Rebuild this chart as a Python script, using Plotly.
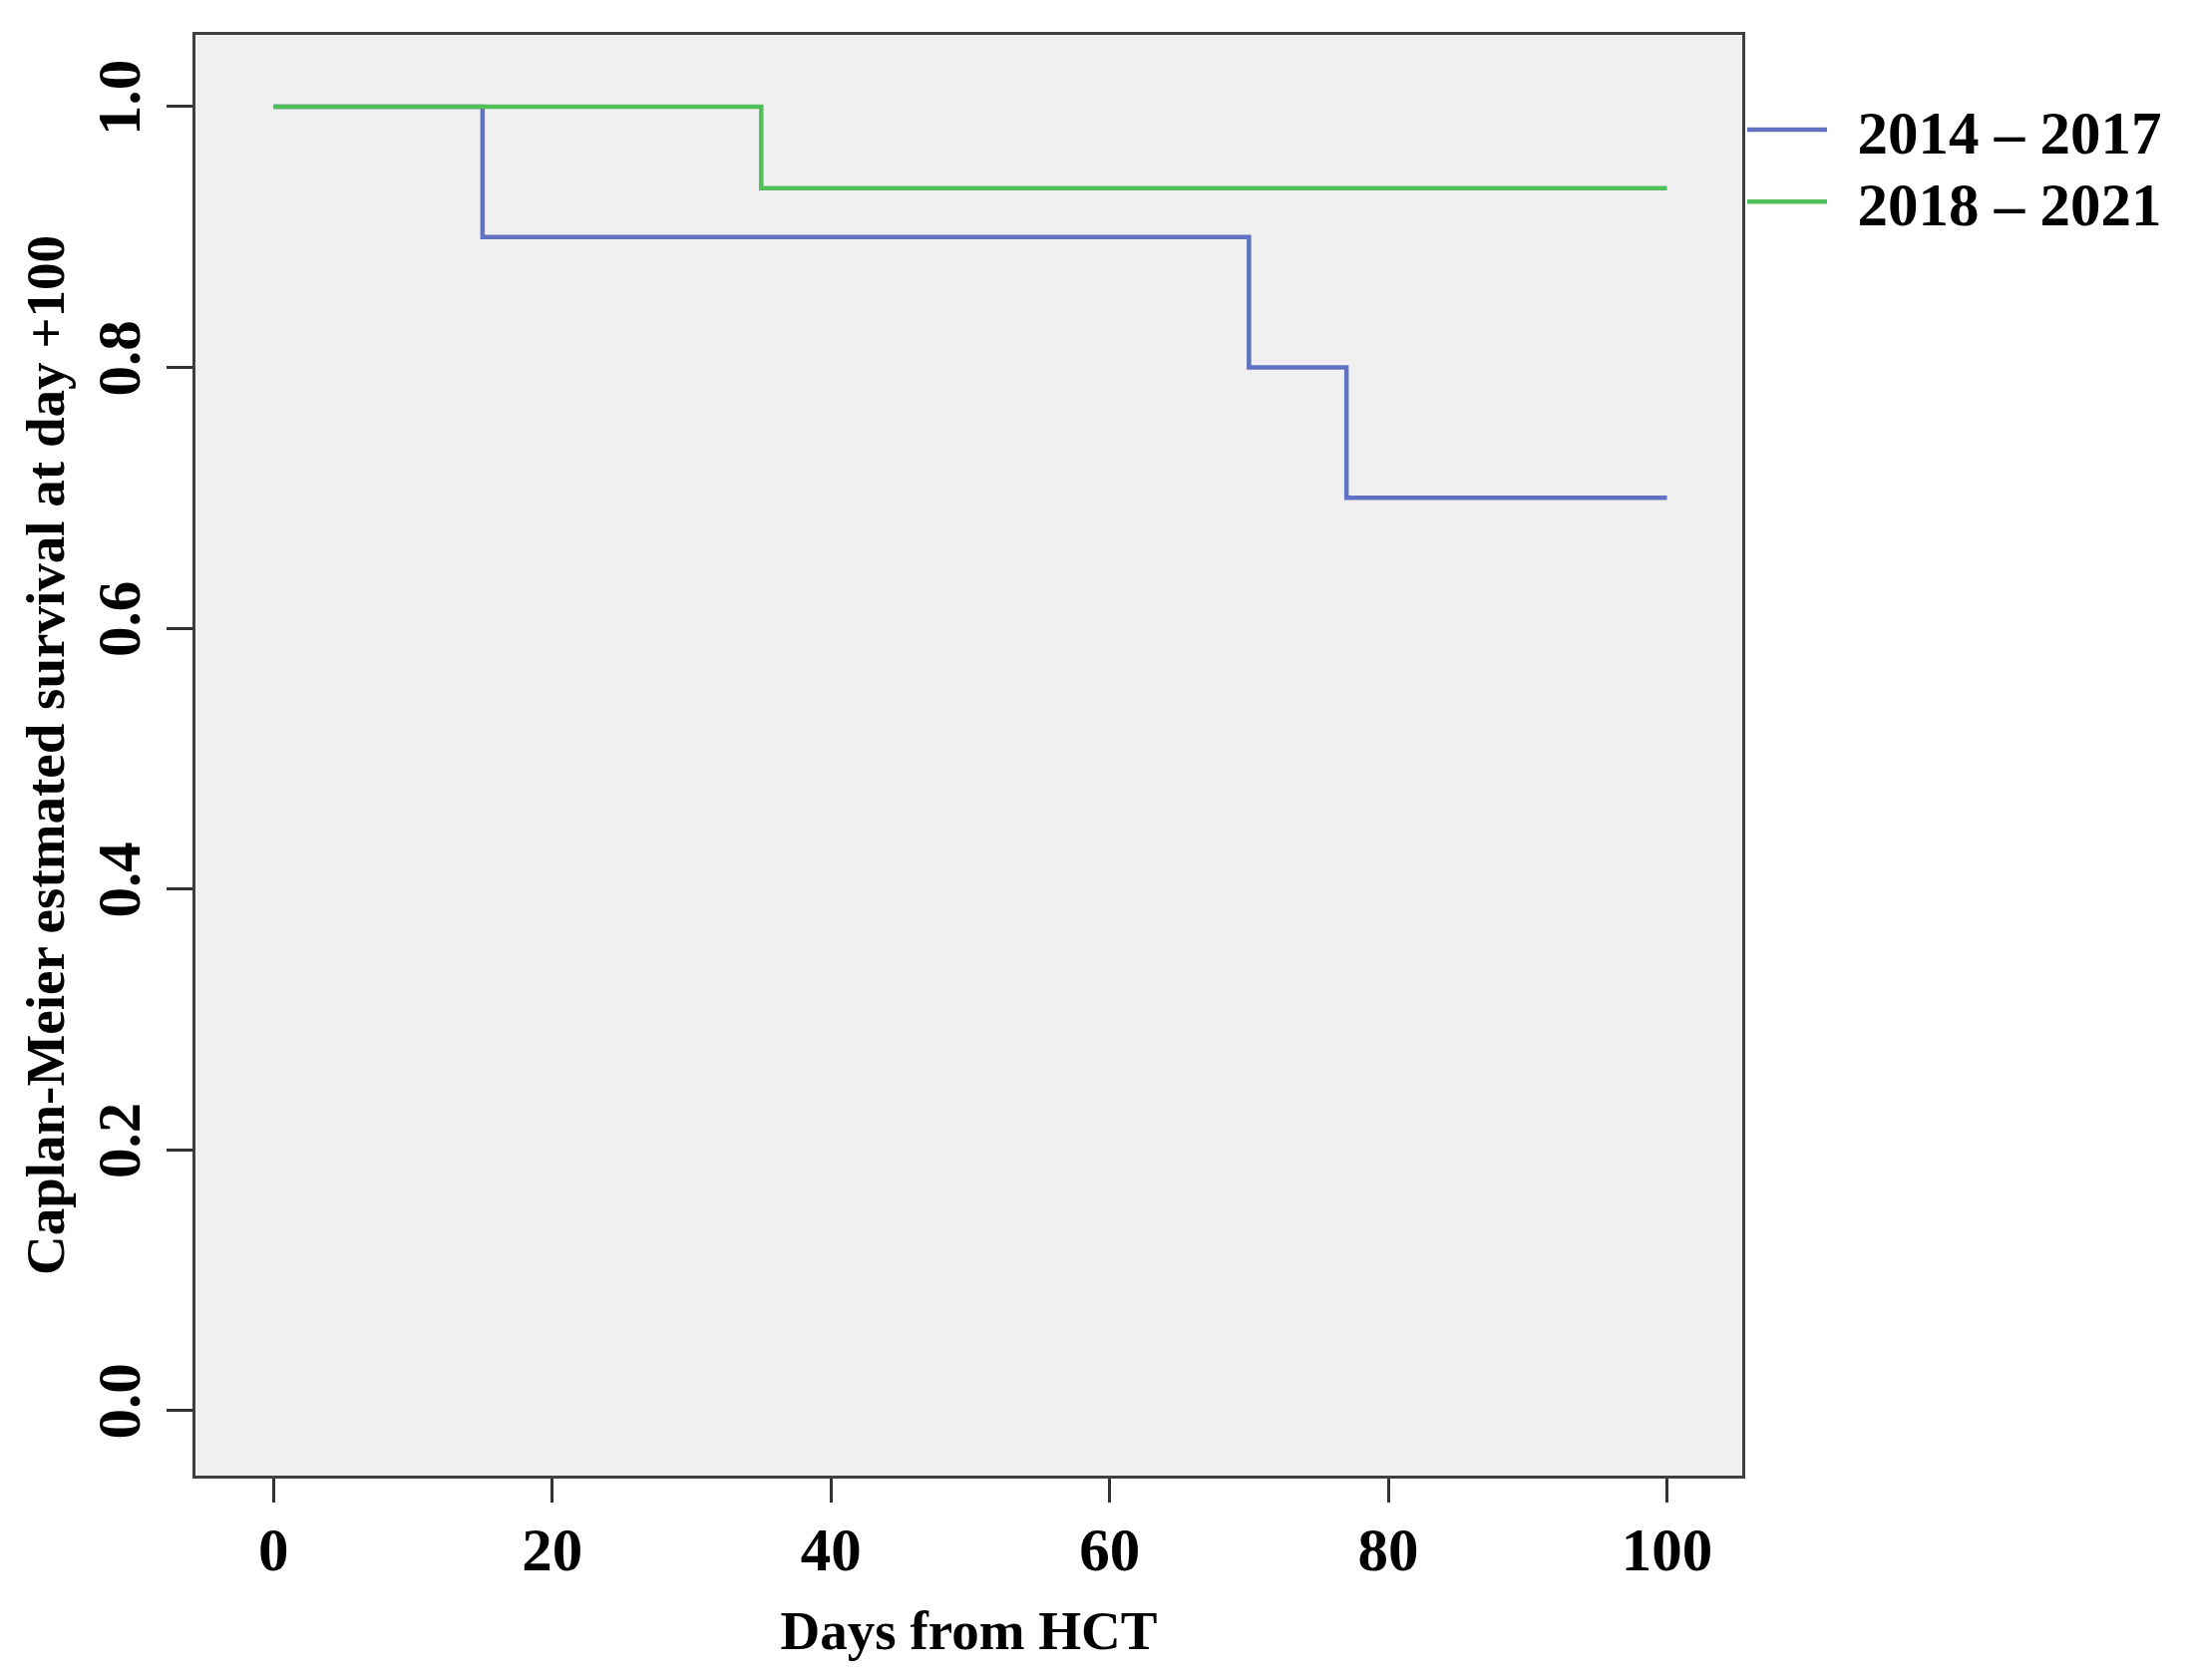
import plotly.graph_objects as go

# Kaplan-Meier step data
days_2014 = [0, 15, 70, 77, 100]
surv_2014 = [1.0, 0.9, 0.8, 0.7, 0.7]
days_2018 = [0, 35, 100]
surv_2018 = [1.0, 0.9375, 0.9375]

labels = ["\u00a0\u20062014 \u2013 2017", "\u00a0\u20062018 \u2013 2021"]
colors = ["#6072C2", "#50BF5A"]

x_ticks = [0, 20, 40, 60, 80, 100]
y_ticks = [0.0, 0.2, 0.4, 0.6, 0.8, 1.0]

FONT = "Liberation Serif"

fig = go.Figure()
fig.add_trace(go.Scatter(x=days_2014, y=surv_2014, mode="lines", name=labels[0],
                         legend="legend",
                         line=dict(color=colors[0], width=4.5, shape="hv")))
fig.add_trace(go.Scatter(x=days_2018, y=surv_2018, mode="lines", name=labels[1],
                         legend="legend2",
                         line=dict(color=colors[1], width=4.5, shape="hv")))

legend_common = dict(xanchor="left", yanchor="middle", itemwidth=80,
                     font=dict(family=FONT, size=61, color="black", weight="bold"),
                     bgcolor="rgba(0,0,0,0)", borderwidth=0)

fig.update_layout(
    width=2192, height=1677,
    margin=dict(l=188, r=453, t=27, b=205, pad=0, autoexpand=False),
    paper_bgcolor="white",
    plot_bgcolor="#F0F0F0",
    font=dict(family=FONT, size=61, color="black", weight="bold"),
    showlegend=True,
    legend=dict(x=1.0, y=0.934, **legend_common),
    legend2=dict(x=1.0, y=0.884, **legend_common),
)

fig.update_xaxes(
    range=[-5.6, 105.4], tickvals=x_ticks, ticktext=[str(v) for v in x_ticks],
    showgrid=False, zeroline=False, automargin=False,
    showline=True, mirror=True, linecolor="#404040", linewidth=3,
    ticks="outside", ticklen=24, tickwidth=3, tickcolor="#333333",
    ticklabelstandoff=-5,
    tickfont=dict(family=FONT, size=61, color="black", weight="bold"),
    title=dict(text="Days from HCT", standoff=29,
               font=dict(family=FONT, size=55, color="black", weight="bold")),
)
fig.update_yaxes(
    range=[-0.05, 1.055], tickvals=y_ticks, ticktext=[f"{v:.1f}" for v in y_ticks],
    showgrid=False, zeroline=False, automargin=False,
    showline=True, mirror=True, linecolor="#404040", linewidth=3,
    ticks="outside", ticklen=26, tickwidth=3, tickcolor="#333333",
    tickangle=-90, ticklabelstandoff=3,
    tickfont=dict(family=FONT, size=61, color="black", weight="bold"),
    title=dict(text="Caplan-Meier estmated survival at day +100", standoff=4,
               font=dict(family=FONT, size=55, color="black", weight="bold")),
)

fig.write_html("out.html")
